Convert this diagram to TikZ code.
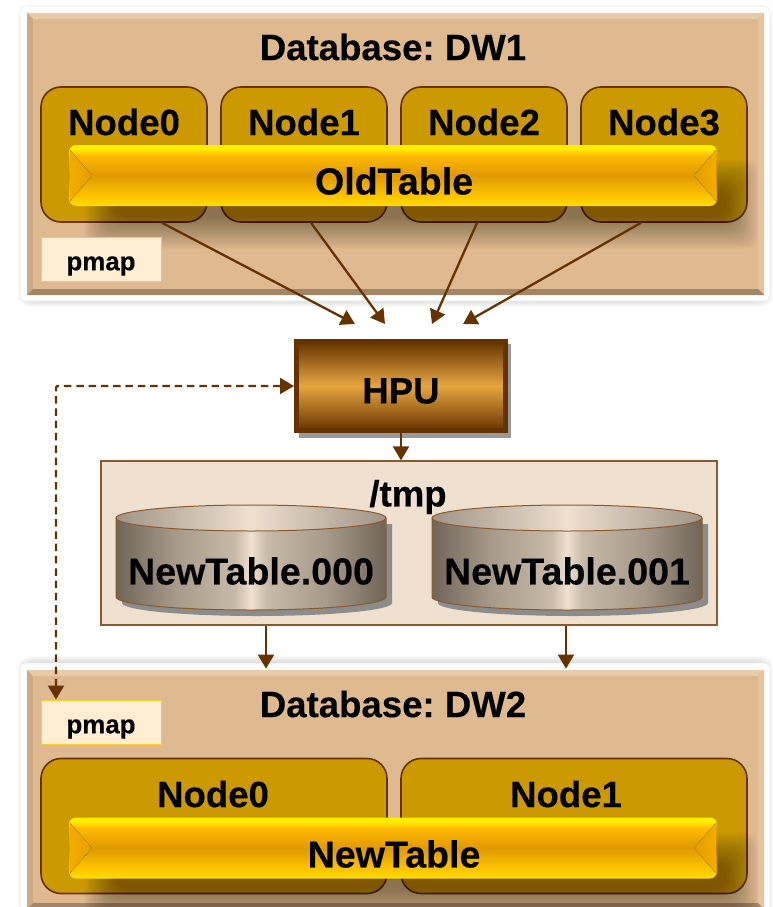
\documentclass[tikz,border=0pt]{standalone}
\usepackage{fontspec}
\setmainfont[BoldFeatures={FakeBold=0.35}]{Liberation Sans}
\usetikzlibrary{arrows.meta}
\definecolor{frameb}{HTML}{663300}
\definecolor{facec}{HTML}{DFB98F}
\definecolor{nodec}{HTML}{CC9900}
\definecolor{tmpc}{HTML}{EFE0D0}
\definecolor{tmpb}{HTML}{8B5A2B}
\definecolor{pmapc}{HTML}{FFEED2}
\definecolor{pmapb}{HTML}{FFCC33}
\definecolor{ya}{HTML}{FFEE00}
\definecolor{yb}{HTML}{FFB800}
\definecolor{yc}{HTML}{E09A00}
\definecolor{yd}{HTML}{FFC400}
\definecolor{ye}{HTML}{FFDD00}
\definecolor{ha}{HTML}{663300}
\definecolor{hb}{HTML}{E8A640}
\definecolor{ca}{HTML}{6F6558}
\definecolor{cb}{HTML}{A89A8A}
\definecolor{cd}{HTML}{C8BAA8}
\definecolor{cc}{HTML}{EFE0D0}
\definecolor{ta}{HTML}{A09488}
\definecolor{capa}{HTML}{F5AC00}
\definecolor{capb}{HTML}{E39E00}
\pgfdeclareverticalshading{barshade}{100bp}{color(0bp)=(ye);color(25bp)=(ye);color(33bp)=(yd);color(50bp)=(yc);color(66bp)=(yb);color(72bp)=(ya);color(75bp)=(ya);color(100bp)=(ya)}
\pgfdeclareverticalshading{hpushade}{100bp}{color(0bp)=(ha);color(25bp)=(ha);color(50bp)=(hb);color(75bp)=(ha);color(100bp)=(ha)}
\pgfdeclarehorizontalshading{cylside}{100bp}{color(0bp)=(ca);color(25bp)=(ca);color(36bp)=(cb);color(47bp)=(cd);color(50bp)=(cc);color(53bp)=(cd);color(64bp)=(cb);color(75bp)=(ca);color(100bp)=(ca)}
\pgfdeclarehorizontalshading{cyltop}{100bp}{color(0bp)=(ta);color(25bp)=(ta);color(50bp)=(cc);color(75bp)=(ta);color(100bp)=(ta)}
\pgfdeclarehorizontalshading{capl}{100bp}{color(0bp)=(capa);color(25bp)=(capa);color(75bp)=(capb);color(100bp)=(capb)}
\pgfdeclarehorizontalshading{capr}{100bp}{color(0bp)=(capb);color(25bp)=(capb);color(75bp)=(capa);color(100bp)=(capa)}
\newcommand{\softshade}[6]{%
  \foreach \d in {-#5,...,#5}{%
    \fill[black,opacity=#6,rounded corners=12pt] (#1-\d,#2-\d) rectangle (#3+\d,#4+\d);}}
\newcommand{\panelbevel}[4]{%
  \fill[white,rounded corners=6pt,draw=black!8,line width=0.6pt] (#1-7,#2-7) rectangle (#3+6,#4+6);
  \fill[facec] (#1,#2) rectangle (#3,#4);
  \fill[fill=facec!75!white] (#1,#2) -- (#3,#2) -- (#3-6,#2+6) -- (#1+6,#2+6) -- cycle;
  \fill[fill=facec!92!black] (#1,#2) -- (#1+6,#2+6) -- (#1+6,#4-6) -- (#1,#4) -- cycle;
  \fill[fill=facec!85!white] (#3,#2) -- (#3-6,#2+6) -- (#3-6,#4-6) -- (#3,#4) -- cycle;
  \fill[fill=facec!72!black] (#1,#4) -- (#1+6,#4-6) -- (#3-6,#4-6) -- (#3,#4) -- cycle;}
\tikzset{
  x=1pt,y=-1pt,
  big/.style={font=\frenchspacing\bfseries\fontsize{36.6}{40}\selectfont,text=black,inner sep=0pt},
  bigger/.style={font=\frenchspacing\bfseries\fontsize{37.6}{40}\selectfont,text=black,inner sep=0pt},
  clusternode/.style={draw=frameb,line width=1.6pt,fill=nodec,rounded corners=20pt,minimum height=135pt,inner sep=0pt},
  tablebar/.style={shading=barshade,rounded corners=7pt,minimum width=648pt,minimum height=61pt,inner sep=0pt},
  pmapbox/.style={draw=pmapb,line width=1pt,fill=pmapc,minimum width=120pt,minimum height=44pt,inner sep=0pt},
  pmaptext/.style={font=\bfseries\fontsize{25.9}{28}\selectfont,inner sep=0pt},
  flow/.style={draw=frameb,line width=2.3pt,-{Triangle[length=14pt,width=16pt]}},
  flowdash/.style={draw=frameb,line width=2.3pt,dash pattern=on 7.5pt off 4.8pt,{Triangle[length=14pt,width=16pt]}-{Triangle[length=14pt,width=16pt]}}
}
\begin{document}
\begin{tikzpicture}
\path[clip] (0,0) rectangle (773,907);
\fill[white] (0,0) rectangle (773,907);
% ---------- top database
\softshade{23}{10}{768}{302}{5}{0.018}
\panelbevel{27}{13}{764}{295}
\node[big] (dw1) at (393,47) {Database: DW1};
\node[clusternode,minimum width=166pt] (n0) at (124,154.5) {};
\node[clusternode,minimum width=166pt] (n1) at (304,154.5) {};
\node[clusternode,minimum width=166pt] (n2) at (484,154.5) {};
\node[clusternode,minimum width=166pt] (n3) at (664,154.5) {};
\node[big] at (124,122) {Node0};
\node[big] at (304,122) {Node1};
\node[big] at (484,122) {Node2};
\node[big] at (664,122) {Node3};
\softshade{100}{175}{742}{233}{16}{0.012}
\node[tablebar] (oldt) at (393,175.5) {};
\fill[shading=capl] (70,150) -- (92,175.5) -- (70,201) -- cycle;
\fill[shading=capr] (716,150) -- (694,175.5) -- (716,201) -- cycle;
\node[bigger] at (394,181) {OldTable};
\node[pmapbox] (pm1) at (101,259) {};
\node[pmaptext] at (101,266) {pmap};
% ---------- HPU
\fill[black!40] (299,344) rectangle (511,438);
\node[draw=frameb,line width=5pt,shading=hpushade,minimum width=209pt,minimum height=89pt,inner sep=0pt] (hpu) at (401,386) {};
\node[big] at (401,391) {HPU};
\draw[flow] ([xshift=38pt]n0.south) -- ([xshift=-46pt,yshift=15pt]hpu.north);
\draw[flow] ([xshift=7pt]n1.south) -- ([xshift=-16pt,yshift=15pt]hpu.north);
\draw[flow] ([xshift=-7pt]n2.south) -- ([xshift=31pt,yshift=15pt]hpu.north);
\draw[flow] ([xshift=-23pt]n3.south) -- ([xshift=62pt,yshift=15pt]hpu.north);
% ---------- /tmp
\node[draw=tmpb,line width=1.3pt,fill=tmpc,minimum width=616pt,minimum height=164pt,inner sep=0pt] (tmp) at (409,543) {};
\node[big] at (408,497) {/tmp};
\foreach \cx/\nm/\lab in {251/c0/NewTable.000,567/c1/NewTable.001}{
  \begin{scope}[shift={(\cx,0)}]
    \fill[black!45] (-129,524) -- (141,524) -- (141,603) arc[start angle=0,end angle=180,x radius=135,y radius=13] -- cycle;
    \path[shading=cylside] (-135,518) -- (135,518) -- (135,597) arc[start angle=0,end angle=180,x radius=135,y radius=13] -- cycle;
    \draw[tmpb,line width=1pt] (-135,518) -- (-135,597) arc[start angle=180,end angle=0,x radius=135,y radius=13] -- (135,518);
    \path[shading=cyltop,draw=tmpb,line width=1pt] (0,518) ellipse[x radius=135,y radius=13];
    \node[bigger] (\nm) at (0,571) {\lab};
  \end{scope}
}
% ---------- bottom database
\softshade{23}{661}{768}{925}{5}{0.018}
\panelbevel{27}{670}{764}{909}
\node[big] (dw2) at (393,704) {Database: DW2};
\node[pmapbox] (pm2) at (101,722) {};
\node[pmaptext] at (101,729) {pmap};
\node[clusternode,minimum width=346pt] (m0) at (214,826) {};
\node[clusternode,minimum width=346pt] (m1) at (574,826) {};
\node[big] at (213,794) {Node0};
\node[big] at (566,794) {Node1};
\softshade{100}{848}{742}{906}{16}{0.012}
\node[tablebar] (newt) at (393,848) {};
\fill[shading=capl] (70,823) -- (92,848) -- (70,873) -- cycle;
\fill[shading=capr] (716,823) -- (694,848) -- (716,873) -- cycle;
\node[bigger] at (394,854) {NewTable};
% ---------- connectors
\draw[flow] (hpu.south) -- (tmp.north -| hpu.south);
\draw[flow] ([xshift=-143pt]tmp.south) -- ([xshift=-143pt,yshift=-43pt]tmp.south);
\draw[flow] ([xshift=157pt]tmp.south) -- ([xshift=157pt,yshift=-43pt]tmp.south);
\coordinate (elbowa) at (56,386);
\draw[flowdash,rounded corners=2pt] (hpu.west) -- (elbowa) -- ([xshift=-45pt]pm2.north);
\end{tikzpicture}
\end{document}
